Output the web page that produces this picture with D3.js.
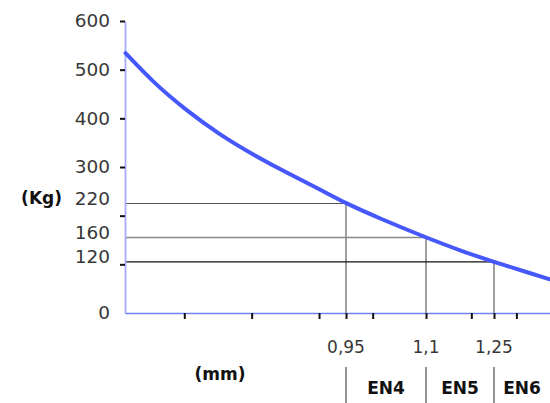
<!DOCTYPE html>
<html>
<head>
<meta charset="utf-8">
<script src="https://cdn.jsdelivr.net/npm/d3@7.9.0/dist/d3.min.js"></script>
<style>
  body { margin: 0; background: #fff; }
  svg { display: block; font-family: "DejaVu Sans", Verdana, sans-serif; }
</style>
</head>
<body>
<svg id="chart" width="550" height="403"></svg>
<script>
// curve: load (Kg) against thickness (mm)
const curveMm = [0.541, 0.592, 0.654, 0.716, 0.778, 0.840, 0.902, 0.95, 1.014, 1.1, 1.182, 1.25, 1.330, 1.375];
const curveKg = [534, 474, 416, 366, 325, 288, 254, 225, 194, 155, 126, 105, 82, 69];

// reference readings
const refMm = [0.95, 1.1, 1.25];
const refKg = [225, 155, 105];
const refMmLabels = ['0,95', '1,1', '1,25'];
const refKgLabels = ['220', '160', '120'];
const classLabels = ['EN4', 'EN5', 'EN6'];

// axis ticks
const yTicks = [0, 100, 200, 300, 400, 500, 600];
const yTickLabels = [0, 300, 400, 500, 600];
const xTicks = [0.65, 0.775, 0.9, 0.95, 1.0, 1.1, 1.2, 1.25, 1.3];

const svg = d3.select('#chart');

// the x axis of the original is not to scale, so map it piece by piece
const x = d3.scaleLinear()
  .domain([0.54, 0.95, 1.1, 1.25, 1.375])
  .range([125, 346, 426, 494, 550]);
const y = d3.scaleLinear().domain([0, 600]).range([313, 21]);

// ---------- reference lines ---------- //
const hColors = ['#555', '#888', '#111'];
refMm.forEach((m, i) => {
  svg.append('line')
    .attr('x1', x.range()[0]).attr('x2', x(m))
    .attr('y1', y(refKg[i])).attr('y2', y(refKg[i]))
    .attr('stroke', hColors[i]).attr('stroke-width', i === 1 ? 1.6 : 1.2);
  svg.append('line')
    .attr('x1', x(m)).attr('x2', x(m))
    .attr('y1', y(refKg[i])).attr('y2', y(0))
    .attr('stroke', '#888').attr('stroke-width', 1.6);
});

// ---------- axes ---------- //
const yAxis = svg.append('g')
  .attr('transform', `translate(${x.range()[0]},0)`)
  .call(d3.axisLeft(y)
    .tickValues(yTicks)
    .tickSize(5)
    .tickSizeOuter(0)
    .tickPadding(10)
    .tickFormat(d => yTickLabels.includes(d) ? d : ''));
yAxis.select('.domain').attr('stroke', '#a4acff').attr('stroke-width', 1.8);
yAxis.selectAll('.tick line').attr('stroke', '#111').attr('stroke-width', 2)
  .filter(d => d === 0).remove();
yAxis.selectAll('.tick text')
  .attr('font-size', 18.5).attr('fill', '#383838')
  .attr('font-family', '"DejaVu Sans", sans-serif');

const xAxis = svg.append('g')
  .attr('transform', `translate(0,${y(0)})`)
  .call(d3.axisBottom(x)
    .tickValues(xTicks)
    .tickSize(6)
    .tickSizeOuter(0)
    .tickFormat(''));
xAxis.select('.domain').attr('stroke', '#7382f2').attr('stroke-width', 1.6);
xAxis.selectAll('.tick line').attr('stroke', '#111').attr('stroke-width', 2);

// ---------- curve ---------- //
const line = d3.line()
  .x(d => x(d[0]))
  .y(d => y(d[1]))
  .curve(d3.curveBasis);

svg.append('path')
  .datum(curveMm.map((m, i) => [m, curveKg[i]]))
  .attr('d', line)
  .attr('fill', 'none')
  .attr('stroke', '#4657fb')
  .attr('stroke-width', 4)
  .attr('stroke-linecap', 'round');

// ---------- labels ---------- //
svg.selectAll('.kgLabel')
  .data(refKgLabels)
  .join('text')
  .attr('class', 'kgLabel')
  .attr('x', 110)
  .attr('y', (d, i) => y(refKg[i]) + 1)
  .attr('text-anchor', 'end')
  .attr('font-size', 18.5)
  .attr('fill', '#383838')
  .text(d => d);

svg.append('text')
  .attr('x', 62).attr('y', 204)
  .attr('text-anchor', 'end')
  .attr('font-size', 17).attr('font-weight', 'bold').attr('fill', '#111')
  .text('(Kg)');

svg.selectAll('.mmLabel')
  .data(refMmLabels)
  .join('text')
  .attr('class', 'mmLabel')
  .attr('x', (d, i) => x(refMm[i]))
  .attr('y', 353)
  .attr('text-anchor', 'middle')
  .attr('font-size', 17)
  .attr('fill', '#383838')
  .text(d => d);

svg.append('text')
  .attr('x', 220).attr('y', 380)
  .attr('text-anchor', 'middle')
  .attr('font-size', 17).attr('font-weight', 'bold').attr('fill', '#111')
  .text('(mm)');

// class separators and names
const bounds = refMm.concat([x.domain()[x.domain().length - 1]]);
refMm.forEach(m => {
  svg.append('line')
    .attr('x1', x(m)).attr('x2', x(m))
    .attr('y1', 367).attr('y2', 403)
    .attr('stroke', '#666').attr('stroke-width', 1.4);
});
svg.selectAll('.enLabel')
  .data(classLabels)
  .join('text')
  .attr('class', 'enLabel')
  .attr('x', (d, i) => (x(bounds[i]) + x(bounds[i + 1])) / 2)
  .attr('y', 394)
  .attr('text-anchor', 'middle')
  .attr('font-size', 17).attr('font-weight', 'bold').attr('fill', '#111')
  .text(d => d);
</script>
</body>
</html>
